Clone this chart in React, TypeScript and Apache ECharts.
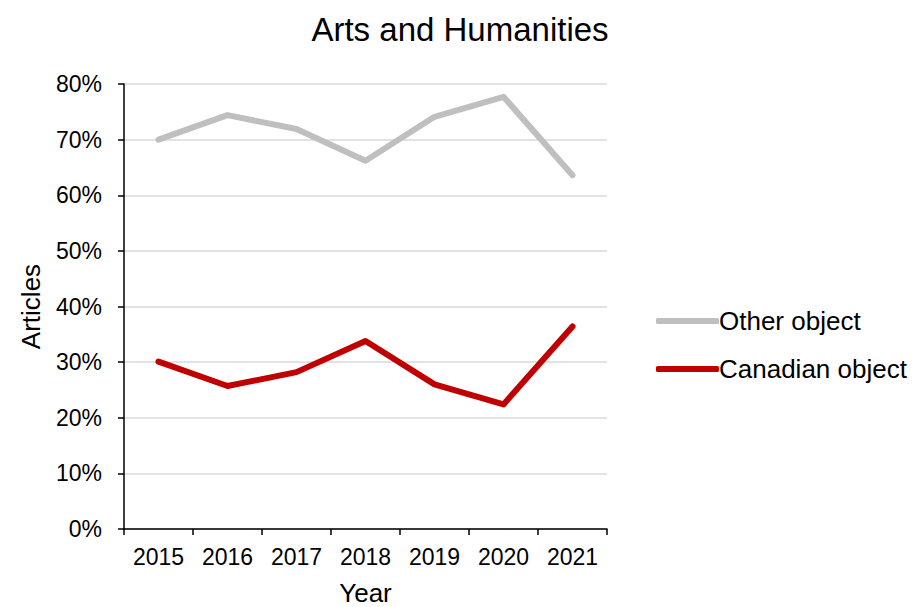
import React, { useEffect, useRef } from "react";
import * as echarts from "echarts";

const years = ["2015", "2016", "2017", "2018", "2019", "2020", "2021"];
const otherObject = [70.0, 74.4, 71.9, 66.2, 74.1, 77.7, 63.6];
const canadianObject = [30.1, 25.7, 28.2, 33.8, 26.0, 22.4, 36.4];
const seriesNames = ["Other object", "Canadian object"];
const titleText = "Arts and Humanities";

const FONT = "'Liberation Sans', Arial, sans-serif";

export default function App() {
  const ref = useRef<HTMLDivElement>(null);
  useEffect(() => {
    if (!ref.current) return;
    const chart = echarts.init(ref.current, null, { renderer: "svg" });
    chart.setOption({
      animation: false,
      backgroundColor: "#ffffff",
      textStyle: { fontFamily: FONT, color: "#000" },
      title: {
        text: titleText,
        left: 455,
        textAlign: "center",
        top: 8,
        textStyle: { fontFamily: FONT, fontSize: 33, fontWeight: "normal", color: "#000" },
      },
      legend: {
        orient: "vertical",
        left: 651,
        top: 303,
        icon: "roundRect",
        itemWidth: 63,
        itemHeight: 6,
        itemGap: 22,
        data: seriesNames,
        textStyle: { fontFamily: FONT, fontSize: 26, color: "#000", padding: [0, 0, 0, -5], lineHeight: 26 },
      },
      grid: { left: 124, right: 312, top: 84, bottom: 78, containLabel: false, outerBoundsMode: "none" },
      xAxis: {
        type: "category",
        data: years,
        boundaryGap: true,
        name: "Year",
        nameLocation: "middle",
        nameGap: 51,
        nameTextStyle: { fontFamily: FONT, fontSize: 26, color: "#000" },
        axisLine: { show: true, lineStyle: { color: "#000", width: 1.5 } },
        axisTick: { show: true, length: 6, lineStyle: { color: "#000", width: 1.5 } },
        axisLabel: { fontFamily: FONT, fontSize: 23, color: "#000", margin: 16 },
        splitLine: { show: false },
      },
      yAxis: {
        type: "value",
        min: 0,
        max: 80,
        interval: 10,
        name: "Articles",
        nameLocation: "middle",
        nameGap: 80,
        nameRotate: 90,
        nameTextStyle: { fontFamily: FONT, fontSize: 26, color: "#000" },
        axisLine: { show: true, lineStyle: { color: "#000", width: 1.5 } },
        axisTick: { show: true, length: 6, lineStyle: { color: "#000", width: 1.5 } },
        axisLabel: { fontFamily: FONT, fontSize: 23, color: "#000", margin: 22, formatter: "{value}%" },
        splitLine: { show: true, lineStyle: { color: "#d9d9d9", width: 1.5 } },
      },
      series: [
        {
          name: seriesNames[0],
          type: "line",
          data: otherObject,
          symbol: "none",
          color: "#bfbfbf",
          lineStyle: { color: "#bfbfbf", width: 6, cap: "round", join: "round" },
        },
        {
          name: seriesNames[1],
          type: "line",
          data: canadianObject,
          symbol: "none",
          color: "#c00000",
          lineStyle: { color: "#c00000", width: 6, cap: "round", join: "round" },
        },
      ],
    });
    return () => chart.dispose();
  }, []);
  return <div ref={ref} style={{ width: 919, height: 607, position: "absolute", left: 0, top: 0 }} />;
}
